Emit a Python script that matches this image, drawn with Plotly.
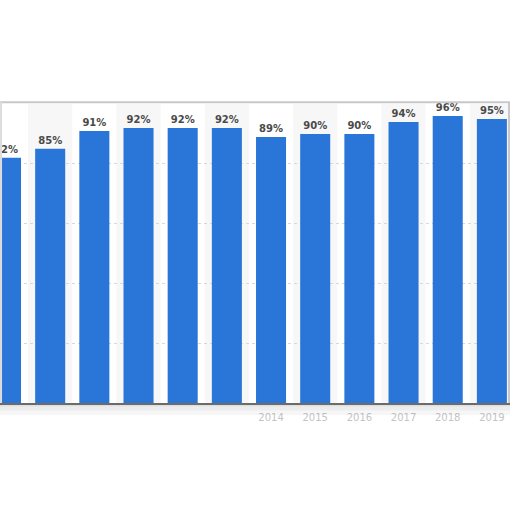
import plotly.graph_objects as go

years = [2008, 2009, 2010, 2011, 2012, 2013, 2014, 2015, 2016, 2017, 2018, 2019]
shares = [82, 85, 91, 92, 92, 92, 89, 90, 90, 94, 96, 95]
labels = [f"{v}%" for v in shares]
# only the right-hand year labels show through the torn edge
visible_years = years[6:]

bar_color = "#2a76d8"

fig = go.Figure(
    data=go.Bar(
        x=years,
        y=shares,
        text=labels,
        textposition="outside",
        textfont=dict(family="DejaVu Sans", size=10, color="#4a4a4a", weight="bold"),
        marker=dict(color=bar_color, line=dict(width=0)),
        cliponaxis=False,
        hoverinfo="x+y",
    )
)

# faint alternating column bands
shapes = []
for yr in years[1::2]:
    shapes.append(dict(type="rect", xref="x", yref="paper", x0=yr - 0.5, x1=yr + 0.5,
                       y0=0, y1=1, fillcolor="#f7f7f7", line=dict(width=0), layer="below"))

# frame around the plot area
shapes.append(dict(type="line", xref="paper", yref="paper", x0=0, x1=1, y0=1.006, y1=1.006,
                   line=dict(color="#c8c8c8", width=2)))
shapes.append(dict(type="line", xref="paper", yref="paper", x0=0.998, x1=0.998, y0=0, y1=1.006,
                   line=dict(color="#c8c8c8", width=2)))
shapes.append(dict(type="line", xref="paper", yref="paper", x0=0.002, x1=0.002, y0=0, y1=1.006,
                   line=dict(color="#dddddd", width=2)))

# soft shadow of the torn edge under the axis
for y0, y1, a in [(-0.012, 0, 0.12), (-0.025, -0.012, 0.07), (-0.04, -0.025, 0.035)]:
    shapes.append(dict(type="rect", xref="paper", yref="paper", x0=0, x1=1, y0=y0, y1=y1,
                       fillcolor=f"rgba(0,0,0,{a})", line=dict(width=0)))

fig.update_layout(
    width=512,
    height=512,
    margin=dict(l=0, r=2, t=104, b=109),
    paper_bgcolor="white",
    plot_bgcolor="white",
    bargap=0.32,
    showlegend=False,
    shapes=shapes,
    xaxis=dict(
        range=[years[0] - 0.136, years[-1] + 0.41],
        tickvals=visible_years,
        ticktext=[str(y) for y in visible_years],
        tickfont=dict(family="DejaVu Sans", size=10, color="#c4c4c4"),
        ticklabelstandoff=4,
        showgrid=False,
        zeroline=False,
        showline=True,
        linecolor="#7a7a7a",
        linewidth=1.5,
        ticks="",
    ),
    yaxis=dict(
        range=[0, 100],
        dtick=20,
        showticklabels=False,
        showgrid=True,
        gridcolor="#d8d8d8",
        griddash="dot",
        gridwidth=1,
        zeroline=False,
    ),
)

fig.write_html("out.html", config={"displayModeBar": False},
               post_script="document.body.style.margin='0';")
